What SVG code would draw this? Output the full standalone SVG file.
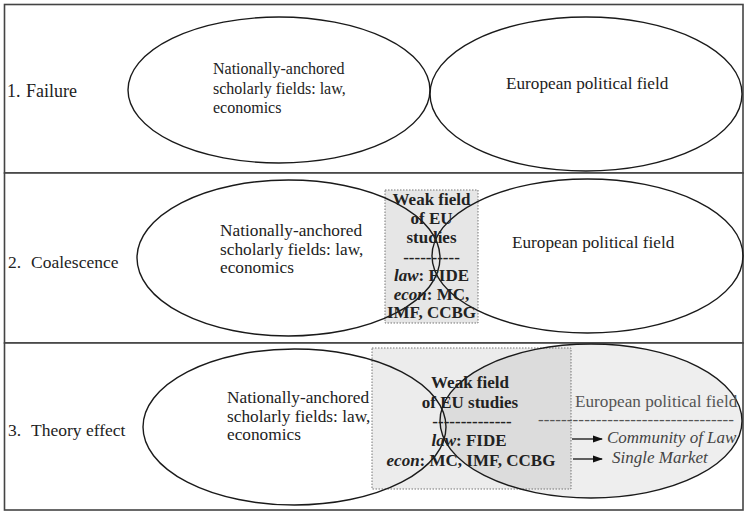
<svg xmlns="http://www.w3.org/2000/svg" width="746" height="511" viewBox="0 0 746 511">
<style>
.row{fill:#fff;stroke:#444;stroke-width:1.6}
.ell{fill:none;stroke:#1a1a1a;stroke-width:1.4}
.t{font-family:"Liberation Serif","Times New Roman",serif;fill:#222}
.lab{font-size:17.5px}
.nat{font-size:17.3px}
.eu{font-size:17.2px}
.box{stroke:#777;stroke-width:1;stroke-dasharray:1.5 1.5}
.b{font-weight:bold;font-size:17px;text-anchor:middle}
.arr{stroke:#111;stroke-width:1.3}
</style>
<defs>
<marker id="ah" markerWidth="10" markerHeight="8" refX="9" refY="4" orient="auto" markerUnits="userSpaceOnUse">
<path d="M0,0.5 L10,4 L0,7.5 Z" fill="#111"/>
</marker>
</defs>

<g id="row1">
<rect class="row" x="4.5" y="4.5" width="738.5" height="168.5"/>
<text class="t" style="font-size:18px" x="7" y="97">1.<tspan x="26">Failure</tspan></text>
</g>
<g id="row1-national">
<ellipse class="ell" cx="279" cy="90" rx="151" ry="73"/>
<text class="t" style="font-size:16px" x="213" y="74">Nationally-anchored</text>
<text class="t" style="font-size:16px" x="213" y="94">scholarly fields: law,</text>
<text class="t" style="font-size:16px" x="213" y="113">economics</text>
</g>
<g id="row1-european">
<ellipse class="ell" cx="586" cy="94" rx="156" ry="77"/>
<text class="t eu" x="506" y="89">European political field</text>
</g>

<g id="row2">
<rect class="row" x="4.5" y="173" width="738.5" height="170"/>
<text class="t lab" x="8" y="268">2.<tspan x="31">Coalescence</tspan></text>
</g>
<g id="row2-weak-box">
<rect class="box" x="385" y="190" width="93" height="133" fill="#e6e6e6"/>
</g>
<g id="row2-national">
<ellipse class="ell" cx="288.5" cy="258" rx="151.5" ry="78"/>
<text class="t nat" x="220" y="236">Nationally-anchored</text>
<text class="t nat" x="220" y="255">scholarly fields: law,</text>
<text class="t nat" x="220" y="273">economics</text>
</g>
<g id="row2-european">
<ellipse class="ell" cx="587.5" cy="256" rx="155.5" ry="77"/>
<text class="t eu" x="512" y="248">European political field</text>
</g>
<g id="row2-weak-text">
<text class="t b" x="431.5" y="205">Weak field</text>
<text class="t b" x="431.5" y="224">of EU</text>
<text class="t b" x="431.5" y="243">studies</text>
<text class="t b" x="431.5" y="263">----------</text>
<text class="t b" x="431.5" y="281"><tspan font-style="italic">law</tspan>: FIDE</text>
<text class="t b" x="431.5" y="300"><tspan font-style="italic">econ</tspan>: MC,</text>
<text class="t b" x="431.5" y="318">IMF, CCBG</text>
</g>

<g id="row3">
<rect class="row" x="4.5" y="343" width="738.5" height="167"/>
<text class="t lab" x="8" y="436">3.<tspan x="31">Theory effect</tspan></text>
</g>
<g id="row3-european-fill">
<ellipse cx="591" cy="421" rx="151" ry="77" fill="#eeeeee"/>
</g>
<g id="row3-weak-box">
<rect class="box" x="372" y="348" width="199" height="141" fill="#000" fill-opacity="0.075"/>
</g>
<g id="row3-national">
<ellipse class="ell" cx="294.5" cy="427" rx="151.5" ry="78"/>
<text class="t nat" x="227" y="403">Nationally-anchored</text>
<text class="t nat" x="227" y="422">scholarly fields: law,</text>
<text class="t nat" x="227" y="440">economics</text>
</g>
<g id="row3-european">
<ellipse class="ell" cx="591" cy="421" rx="151" ry="77"/>
<text class="t eu" x="575" y="407" style="fill:#555">European political field</text>
<text class="t" x="538" y="425" style="fill:#555;font-size:17px" textLength="196" lengthAdjust="spacing">----------------------------------</text>
<text class="t" x="607" y="443" style="font-size:17px;font-style:italic;fill:#444">Community of Law</text>
<text class="t" x="612" y="463" style="font-size:17px;font-style:italic;fill:#444">Single Market</text>
</g>
<g id="row3-weak-text">
<text class="t b" x="470" y="388">Weak field</text>
<text class="t b" x="470" y="408">of EU studies</text>
<text class="t b" x="472" y="427">--------------</text>
<text class="t b" x="469" y="446"><tspan font-style="italic">law</tspan>: FIDE</text>
<text class="t b" x="471" y="466"><tspan font-style="italic">econ</tspan>: MC, IMF, CCBG</text>
</g>

<g id="connectors">
<line class="arr" x1="572" y1="439" x2="602" y2="439" marker-end="url(#ah)"/>
<line class="arr" x1="573" y1="459" x2="602" y2="459" marker-end="url(#ah)"/>
</g>
</svg>
